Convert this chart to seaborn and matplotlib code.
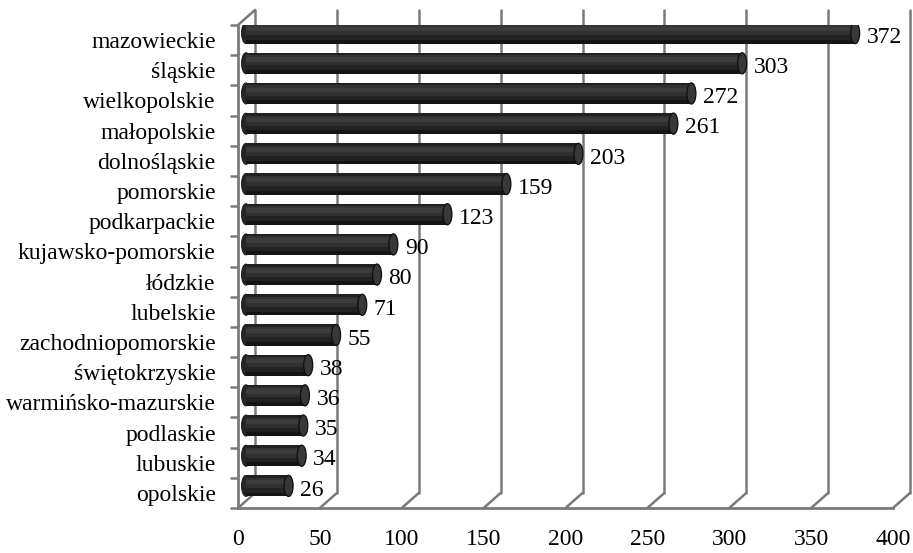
import matplotlib.pyplot as plt
import matplotlib.transforms as mtransforms
from matplotlib.patches import Ellipse, Rectangle
import seaborn as sns
import pandas as pd

regions = ["mazowieckie", "śląskie", "wielkopolskie", "małopolskie", "dolnośląskie",
           "pomorskie", "podkarpackie", "kujawsko-pomorskie", "łódzkie", "lubelskie",
           "zachodniopomorskie", "świętokrzyskie", "warmińsko-mazurskie", "podlaskie",
           "lubuskie", "opolskie"]
counts = [372, 303, 272, 261, 203, 159, 123, 90, 80, 71, 55, 38, 36, 35, 34, 26]
xticks = [0, 50, 100, 150, 200, 250, 300, 350, 400]

sns.set_theme(style="white")
plt.rcParams['font.family'] = ['Liberation Serif', 'DejaVu Serif']
plt.rcParams['text.color'] = 'black'
plt.rcParams['xtick.color'] = 'black'
plt.rcParams['ytick.color'] = 'black'

W, H = 913, 553
fig = plt.figure(figsize=(W / 100, H / 100), dpi=100)
ax = fig.add_axes([238 / W, 45 / H, 655 / W, 483 / H])

df = pd.DataFrame({'woj': regions, 'n': counts})
sns.barplot(data=df, y='woj', x='n', orient='h', color='#2a2a2a', saturation=1,
            width=0.7, ax=ax, zorder=4, linewidth=0)

ax.set_xlim(0, 400)
ax.set_ylim(len(regions) - 0.5, -0.5)
ax.set_xlabel('')
ax.set_ylabel('')

grid_c = '#7a7a7a'
# glebokosc scianki 3D (piksele)
dx, dy = 17, 15
depth = mtransforms.ScaledTranslation(dx / 100, dy / 100, fig.dpi_scale_trans)
half = mtransforms.ScaledTranslation(8 / 100, 7 / 100, fig.dpi_scale_trans)

ybot, ytop = len(regions) - 0.5, -0.5
for t in xticks:
    ax.plot([t, t], [ybot, ytop], transform=ax.transData + depth, color=grid_c,
            lw=1.8, clip_on=False, zorder=1)
    p0 = ax.transData.transform((t, ybot))
    ax.plot([p0[0], p0[0] + dx], [p0[1], p0[1] + dy], transform=None,
            color=grid_c, lw=1.8, clip_on=False, zorder=1)
p0 = ax.transData.transform((0, ytop))
ax.plot([p0[0], p0[0] + dx], [p0[1], p0[1] + dy], transform=None,
        color=grid_c, lw=1.8, clip_on=False, zorder=1)

# walce
px_per_unit = 655 / 400
cap_w = 9 / px_per_unit
bands = [(0.0, 0.12, '#202020'), (0.12, 0.22, '#333333'), (0.22, 0.42, '#3c3c3c'),
         (0.42, 0.6, '#303030'), (0.6, 0.82, '#222222'), (0.82, 1.0, '#141414')]
bars = list(ax.patches)
for p in bars:
    p.set_transform(ax.transData + half)
    w, h, y0 = p.get_width(), p.get_height(), p.get_y()
    yc = y0 + h / 2
    ax.add_patch(Ellipse((0, yc), cap_w, h, facecolor='#262626', edgecolor='#111111',
                         lw=0.6, transform=ax.transData + half, zorder=3))
    for a, b, c in bands:
        ax.add_patch(Rectangle((0, y0 + h * a), w, h * (b - a), facecolor=c,
                               edgecolor='none', transform=ax.transData + half, zorder=5))
    ax.add_patch(Ellipse((w, yc), cap_w, h, facecolor='#383838', edgecolor='#0e0e0e',
                         lw=0.9, transform=ax.transData + half, zorder=6))

for i, v in enumerate(counts):
    ax.annotate(str(v), xy=(v, i), xytext=(14, 2), textcoords='offset points',
                ha='left', va='center', fontsize=17, color='black')

for s in ['top', 'right']:
    ax.spines[s].set_visible(False)
for s in ['left', 'bottom']:
    ax.spines[s].set_color(grid_c)
    ax.spines[s].set_linewidth(2)
    ax.spines[s].set_zorder(2)

ax.set_xticks(xticks)
ax.set_xticklabels([str(t) for t in xticks], fontsize=17)
ax.tick_params(axis='x', length=6, width=1.8, color=grid_c, pad=9, direction='out',
               labelcolor='black')
ax.set_yticks(range(len(regions)))
ax.set_yticklabels(regions, fontsize=17)
ax.tick_params(axis='y', length=0, pad=16, labelcolor='black')
ax.set_yticks([i - 0.5 for i in range(len(regions) + 1)], minor=True)
ax.tick_params(axis='y', which='minor', length=6, width=1.8, color=grid_c, left=True)
ax.grid(False)

fig.savefig('out.png', dpi=100)
